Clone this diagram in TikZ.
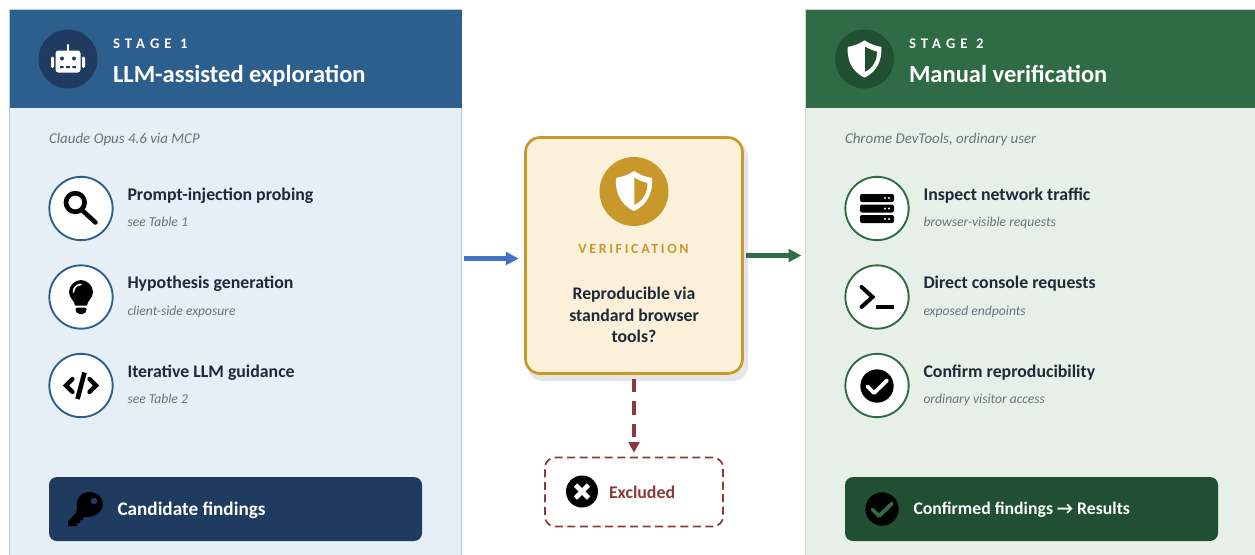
\documentclass[tikz,border=0pt]{standalone}
\usepackage{fontspec}
\setmainfont{Carlito}
\usetikzlibrary{arrows.meta,calc}
\definecolor{blueHead}{HTML}{2D5F8E}
\definecolor{blueDark}{HTML}{1F3B5F}
\definecolor{bluePale}{HTML}{E6EEF6}
\definecolor{blueEdge}{HTML}{B9C8D6}
\definecolor{greenHead}{HTML}{2F6B44}
\definecolor{greenDark}{HTML}{204F32}
\definecolor{greenPale}{HTML}{E6F0E8}
\definecolor{greenEdge}{HTML}{CBD8CE}
\definecolor{gold}{HTML}{C9982B}
\definecolor{cream}{HTML}{FBF0D9}
\definecolor{shadowGrey}{HTML}{E5E5E5}
\definecolor{inkDark}{HTML}{1F2937}
\definecolor{inkGrey}{HTML}{6B7280}
\definecolor{wine}{HTML}{8B3A3A}
\definecolor{arrowBlue}{HTML}{4472C4}
\newcommand{\spaced}[2]{\addfontfeatures{LetterSpace=#1}#2}
\newcommand{\shieldOuter}{(0,-20) .. controls (5,-16.5) and (12,-14) .. (18,-13) .. controls (19,-1) and (15,13) .. (0,20) .. controls (-15,13) and (-19,-1) .. (-18,-13) .. controls (-12,-14) and (-5,-16.5) .. cycle}
\newcommand{\shieldInner}{(0.3,-13.5) .. controls (4,-11.5) and (9,-9) .. (13.5,-8) .. controls (13.5,1) and (10,9.5) .. (0.3,14) -- cycle}
\tikzset{
  x=0.75pt,y=-0.75pt,
  every node/.style={inner sep=0pt,outer sep=0pt},
  panelbox/.style={rectangle,anchor=north west,line width=0.75pt},
  headbar/.style={rectangle,anchor=north west,minimum width=#1*0.75pt,minimum height=73.5pt},
  headdisc/.style={circle,minimum size=44.25pt},
  itemdisc/.style={circle,draw=#1,fill=white,line width=1.4pt,minimum size=47.5pt},
  stagelabel/.style={anchor=base west,text=white,font=\fontsize{11pt}{13pt}\selectfont\bfseries},
  stagetitle/.style={anchor=base west,text=white,font=\fontsize{18.4pt}{22pt}\selectfont\bfseries},
  tooltext/.style={anchor=base west,text=inkGrey,font=\fontsize{11.2pt}{13pt}\selectfont\itshape},
  itemtitle/.style={anchor=base west,text=inkDark,font=\fontsize{13.35pt}{16pt}\selectfont\bfseries},
  itemsub/.style={anchor=base west,text=inkGrey,font=\fontsize{10.2pt}{12pt}\selectfont\itshape},
  resultbar/.style={rectangle,rounded corners=6pt,anchor=north west,minimum width=279.75pt,minimum height=48pt},
  resulttext/.style={anchor=west,text=white,font=\fontsize{#1}{16pt}\selectfont\bfseries},
  flow/.style={line width=3.2pt,-{Triangle[length=9.5pt,width=9.5pt]}},
}
\begin{document}
\begin{tikzpicture}
\useasboundingbox (0,0) rectangle (1255,554);
\fill[white] (0,0) rectangle (1255,554);
% panels
\begin{scope}
\clip (0,0) rectangle (1255,554);
\node[panelbox,fill=bluePale,draw=blueEdge,minimum width=339pt,minimum height=420pt] (panelA) at (9.5,9.5) {};
\node[panelbox,fill=greenPale,draw=greenEdge,minimum width=345pt,minimum height=420pt] (panelB) at (805.5,9.5) {};
\node[headbar=452,fill=blueHead] (headA) at (9.5,9.5) {};
\node[headbar=452,fill=greenHead] (headB) at (805.5,9.5) {};
\end{scope}
% header discs
\node[headdisc,fill=blueDark] (discA) at (68,59) {};
\node[headdisc,fill=greenDark] (discB) at (864.5,59) {};
% robot
\begin{scope}[shift={(68,59)}]
\fill[white,rounded corners=2.2pt] (-12.5,-8.5) rectangle (12.5,13.5);
\fill[white] (-1,-14) rectangle (1,-8);
\fill[white] (0,-14) circle (1.2);
\fill[white,rounded corners=1pt] (-17,-2.5) rectangle (-14,9);
\fill[white,rounded corners=1pt] (14,-2.5) rectangle (17,9);
\fill[blueDark] (-6,-0.5) circle (2) (6,-0.5) circle (2);
\fill[blueDark] (-8,7) rectangle (-4.3,9) (-1.8,7) rectangle (1.8,9) (4.3,7) rectangle (8,9);
\end{scope}
% shield B
\begin{scope}[shift={(864.5,59)},scale=0.93]
\fill[white,even odd rule] \shieldOuter \shieldInner;
\end{scope}
% stage text
\node[stagelabel] (stageA) at (113,48) {\spaced{35}{STAGE 1}};
\node[stagetitle] (titleA) at (113,82.5) {LLM-assisted exploration};
\node[stagelabel] (stageB) at (909,48) {\spaced{35}{STAGE 2}};
\node[stagetitle] (titleB) at (909,82.5) {Manual verification};
\node[tooltext] (toolA) at (49,143) {Claude Opus 4.6 via MCP};
\node[tooltext] (toolB) at (845,143) {Chrome DevTools, ordinary user};
% left items
\node[itemdisc=blueHead] (a1) at (81,208.5) {};
\node[itemdisc=blueHead] (a2) at (81,297) {};
\node[itemdisc=blueHead] (a3) at (81,385.5) {};
\node[itemtitle] (a1t) at (127.5,200) {Prompt-injection probing};
\node[itemsub] (a1s) at (127.5,226.5) {see Table 1};
\node[itemtitle] (a2t) at (127.5,288.5) {Hypothesis generation};
\node[itemsub] (a2s) at (127.5,315) {client-side exposure};
\node[itemtitle] (a3t) at (127.5,377) {Iterative LLM guidance};
\node[itemsub] (a3s) at (127.5,403.5) {see Table 2};
% magnifier
\begin{scope}[shift={(81,208.5)}]
\draw[black,line width=3.5pt] (-5.7,-6) circle (9.3);
\draw[black,line width=3.4pt,line cap=round] (2,2.5) -- (14.5,14);
\end{scope}
% bulb
\begin{scope}[shift={(81,297)}]
\fill[black] (-6,8.5) .. controls (-6,4) and (-12,1) .. (-12,-5) .. controls (-12,-11.5) and (-6,-17) .. (0,-17) .. controls (6,-17) and (12,-11.5) .. (12,-5) .. controls (12,1) and (6,4) .. (6,8.5) -- cycle;
\fill[black,rounded corners=1.5pt] (-5.5,10.5) -- (5.5,10.5) -- (5.5,14) -- (3.5,17) -- (-3.5,17) -- (-5.5,14) -- cycle;
\draw[white,line width=1.2pt,line cap=round] (-7.5,-5) .. controls (-7.5,-9.5) and (-4,-12.5) .. (0,-12.5);
\end{scope}
% code
\begin{scope}[shift={(81,385.5)}]
\draw[black,line width=3.2pt,line cap=round,line join=miter] (-8.5,-6.5) -- (-15,0) -- (-8.5,6.5);
\draw[black,line width=3.2pt,line cap=round,line join=miter] (8.5,-6.5) -- (15,0) -- (8.5,6.5);
\draw[black,line width=3.5pt] (3.5,-13) -- (-3.5,13.5);
\end{scope}
% candidate
\node[resultbar,fill=blueDark] (cand) at (49,477) {};
\node[resulttext=14.4pt] (candt) at (117.5,510) {Candidate findings};
\begin{scope}[shift={(68,492)}]
\fill[black,even odd rule] (8,21) -- (0,29) -- (0,34) -- (9,34) -- (9,31) -- (12,31) -- (12,28) -- (15,28) -- (15,25) -- (18,25) .. controls (28,25) and (35,19) .. (35,12) .. controls (35,5) and (29,0) .. (22,0) .. controls (13,0) and (7,7) .. (9,16) -- cycle
 (26,9) circle (3.5);
\end{scope}
% right items
\node[itemdisc=greenHead] (b1) at (877,208.5) {};
\node[itemdisc=greenHead] (b2) at (877,297) {};
\node[itemdisc=greenHead] (b3) at (877,385.5) {};
\node[itemtitle] (b1t) at (923.5,200) {Inspect network traffic};
\node[itemsub] (b1s) at (923.5,226.5) {browser-visible requests};
\node[itemtitle] (b2t) at (923.5,288.5) {Direct console requests};
\node[itemsub] (b2s) at (923.5,315) {exposed endpoints};
\node[itemtitle] (b3t) at (923.5,377) {Confirm reproducibility};
\node[itemsub] (b3s) at (923.5,403.5) {ordinary visitor access};
% server
\begin{scope}[shift={(877,208.5)}]
\foreach \yy in {-10.5,0,10.5}{
  \fill[black,rounded corners=1.5pt] (-17,\yy-4) rectangle (17,\yy+4);
  \fill[white] (8,\yy) circle (1.2) (12,\yy) circle (1.2);
}
\end{scope}
% terminal
\begin{scope}[shift={(877,297)}]
\draw[black,line width=3pt,line cap=round,line join=miter] (-15.5,-10) -- (-4.5,0) -- (-15.5,10);
\draw[black,line width=3pt] (-1,10.3) -- (17,10.3);
\end{scope}
% check
\node[circle,fill=black,minimum size=25pt] (b3c) at (877,386) {};
\begin{scope}[shift={(877,386)}]
\draw[white,line width=2.9pt,line cap=round,line join=round] (-9.5,0.5) -- (-3,7) -- (10,-5.5);
\end{scope}
% confirmed
\node[resultbar,fill=greenDark] (conf) at (845,477) {};
\node[resulttext=13.3pt] (conft) at (913.5,510) {Confirmed findings → Results};
\node[circle,fill=black,minimum size=25pt] (confc) at (882,509) {};
\begin{scope}[shift={(882,509)}]
\draw[greenHead,line width=2.9pt,line cap=round,line join=round] (-9.5,0.5) -- (-3,7) -- (10,-5.5);
\end{scope}
% verification box
\fill[shadowGrey,rounded corners=11pt] (528,142) rectangle (748,381);
\node[rectangle,anchor=north west,rounded corners=11pt,fill=cream,draw=gold,line width=2pt,minimum width=162.75pt,minimum height=177pt] (verif) at (525.5,137.5) {};
\node[circle,fill=gold,minimum size=51.75pt] (vdisc) at (634,191.5) {};
\begin{scope}[shift={(634,191)}]
\fill[white,even odd rule] \shieldOuter \shieldInner;
\end{scope}
\node[anchor=base,text=gold,font=\fontsize{10.5pt}{12pt}\selectfont\bfseries] (vlabel) at (633.5,253) {\spaced{19}{VERIFICATION}};
\node[anchor=north,align=center,text=inkDark,font=\fontsize{13.3pt}{16.1pt}\selectfont\bfseries] (vq) at (634,287.5) {Reproducible via\\standard browser\\tools?};
% excluded
\node[rectangle,anchor=north west,rounded corners=7.5pt,draw=wine,dashed,dash pattern=on 6pt off 3.4pt,line width=1.3pt,minimum width=133.5pt,minimum height=51.75pt] (excl) at (545,457.5) {};
\node[circle,fill=black,minimum size=24pt] (xdisc) at (582,491.5) {};
\begin{scope}[shift={(582,491.5)}]
\draw[white,line width=3.6pt] (-6.5,-6.5) -- (6.5,6.5) (-6.5,6.5) -- (6.5,-6.5);
\end{scope}
\node[anchor=west,text=wine,font=\fontsize{13.4pt}{15pt}\selectfont\bfseries] (xt) at (609,492) {Excluded};
% connectors
\coordinate (blueLevel) at (0,258.5);
\draw[flow,arrowBlue,shorten <=1.9pt,shorten >=5.2pt] (panelA.east |- blueLevel) -- (verif.west |- blueLevel);
\draw[flow,greenHead,shorten <=2.6pt,shorten >=3.2pt] (verif.east) -- (panelB.west |- verif.east);
\draw[wine,line width=3pt,dash pattern=on 10pt off 7pt,shorten <=3.8pt,shorten >=3.5pt,-{Triangle[length=8pt,width=8pt]}] (verif.south) -- (excl.north);
\end{tikzpicture}
\end{document}
